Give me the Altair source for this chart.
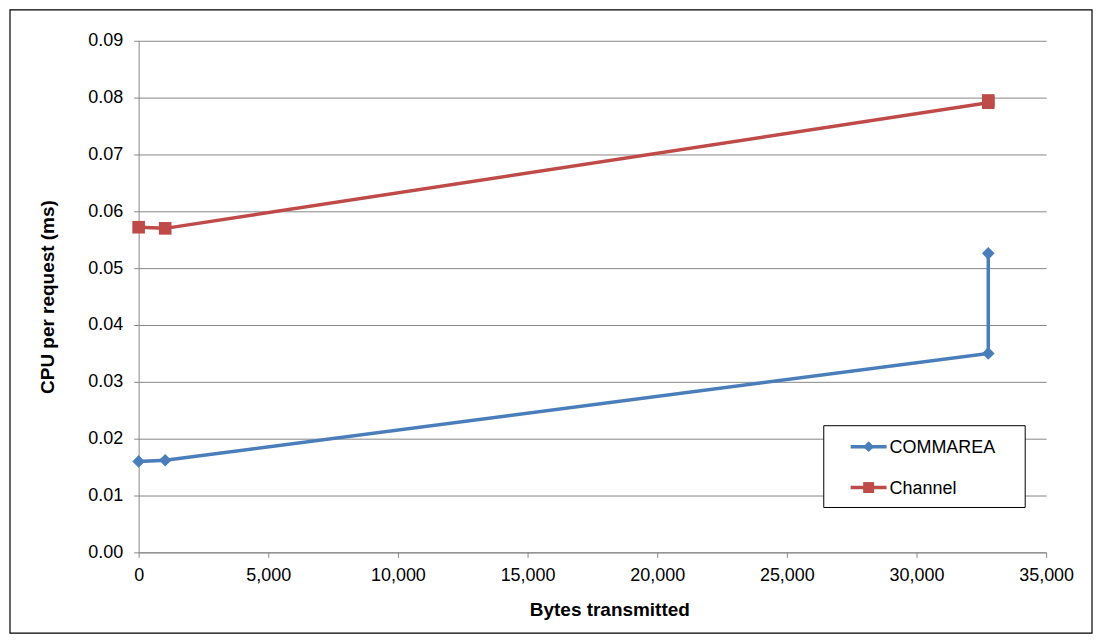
import altair as alt
import pandas as pd

# ---- data ----
series = ["COMMAREA", "COMMAREA", "COMMAREA", "COMMAREA",
          "Channel", "Channel", "Channel", "Channel"]
bytes_tx = [0, 1024, 32768, 32768, 0, 1024, 32768, 32768]
cpu_ms = [0.0160, 0.0162, 0.0350, 0.0526, 0.0572, 0.0570, 0.0791, 0.0795]
seq = [0, 1, 2, 3, 0, 1, 2, 3]

series_names = ["COMMAREA", "Channel"]
series_colors = ["#4a7ebb", "#be4b48"]
series_shapes = ["diamond", "square"]
x_ticks = [0, 5000, 10000, 15000, 20000, 25000, 30000, 35000]
y_ticks = [0.0, 0.01, 0.02, 0.03, 0.04, 0.05, 0.06, 0.07, 0.08, 0.09]

df = pd.DataFrame({"series": series, "bytes": bytes_tx, "cpu": cpu_ms, "seq": seq})

FONT = "Liberation Sans"
W, H = 910, 513

x_enc = alt.X("bytes:Q",
              scale=alt.Scale(domain=[0, 35000], nice=False, zero=True),
              axis=alt.Axis(values=x_ticks, format=",d", title="Bytes transmitted",
                            grid=False, tickSize=5, labelPadding=9, labelFlush=False,
                            titleX=472, titleY=57, titleBaseline="middle",
                            titleAlign="center"))
y_enc = alt.Y("cpu:Q",
              scale=alt.Scale(domain=[0, 0.09], nice=False),
              axis=alt.Axis(values=y_ticks, format=".2f", title="CPU per request (ms)",
                            grid=True, tickSize=5, labelPadding=11, labelFlush=False,
                            titleX=-91, titleY=H / 2, titleBaseline="middle",
                            titleAlign="center", titleAngle=270))
color_enc = alt.Color("series:N",
                      scale=alt.Scale(domain=series_names, range=series_colors),
                      legend=None)
shape_enc = alt.Shape("series:N",
                      scale=alt.Scale(domain=series_names, range=series_shapes),
                      legend=None)

base = alt.Chart(df)
lines = base.mark_line(strokeWidth=3.5).encode(
    x=x_enc, y=y_enc, color=color_enc, order=alt.Order("seq:Q"))
points = base.mark_point(filled=True, opacity=1, size=160).encode(
    x="bytes:Q", y="cpu:Q", color=color_enc, shape=shape_enc)

# ---- manual legend (decoration, in pixel space of the plot area) ----
legend_box = alt.Chart(pd.DataFrame({"k": [0]})).mark_rect(
    fill="white", stroke="black", strokeWidth=1).encode(
    x=alt.value(687), x2=alt.value(889), y=alt.value(386), y2=alt.value(468))

legend_layers = [legend_box]
legend_rows_y = [407, 448]
for name, col, shp, ly in zip(series_names, series_colors, series_shapes, legend_rows_y):
    ldf = pd.DataFrame({"label": [name]})
    legend_layers.append(alt.Chart(ldf).mark_rule(color=col, strokeWidth=3.5).encode(
        x=alt.value(714), x2=alt.value(750), y=alt.value(ly)))
    legend_layers.append(alt.Chart(ldf).mark_point(
        filled=True, opacity=1, size=120, color=col, shape=shp).encode(
        x=alt.value(732), y=alt.value(ly)))
    legend_layers.append(alt.Chart(ldf).mark_text(
        align="left", baseline="middle", font=FONT, fontSize=18, color="black").encode(
        x=alt.value(753), y=alt.value(ly + 1), text="label:N"))

# ---- outer chart border ----
border = alt.Chart(pd.DataFrame({"k": [0]})).mark_rect(
    fill=None, stroke="black", strokeWidth=1.2).encode(
    x=alt.value(-129), x2=alt.value(956), y=alt.value(-31), y2=alt.value(594))

chart = alt.layer(lines, points, *legend_layers, border).properties(
    width=W, height=H,
    autosize=alt.AutoSizeParams(type="none"),
    padding={"left": 131, "top": 32, "right": 50, "bottom": 84},
).configure_view(stroke=None).configure_axis(
    labelFont=FONT, labelFontSize=18, labelColor="black",
    titleFont=FONT, titleFontSize=19, titleFontWeight="bold", titleColor="black",
    domainColor="#878787", tickColor="#878787", gridColor="#878787",
    domainWidth=1, gridWidth=1, tickWidth=1,
)

chart.save("out.html", embed_options={"renderer": "svg", "actions": False})
